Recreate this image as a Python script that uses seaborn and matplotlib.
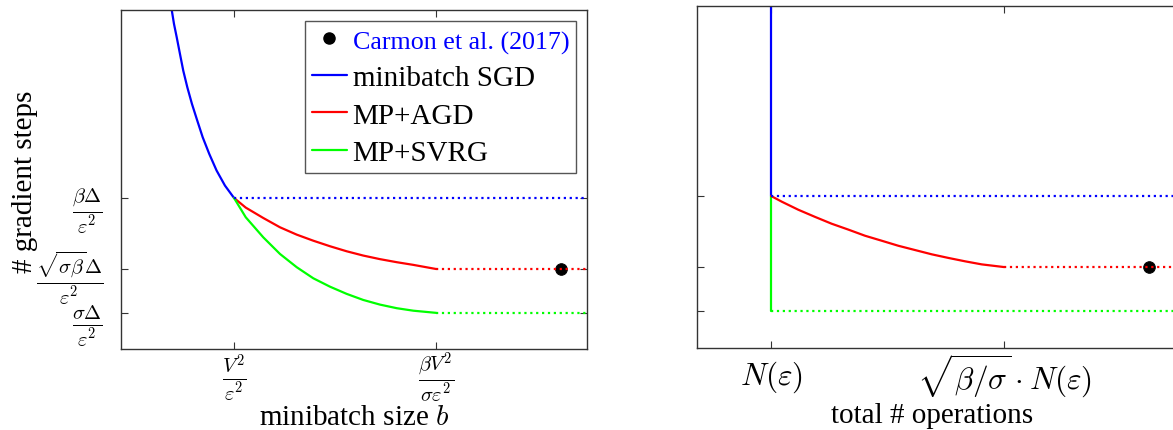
import matplotlib
matplotlib.use("Agg")
import matplotlib.pyplot as plt
import matplotlib.transforms as mtrans
from matplotlib.lines import Line2D
import seaborn as sns

# ---------------- data ----------------
# left panel: x in units of V^2/eps^2, y in units of beta*Delta/eps^2
x_ticks_left = [1.0, 2.788]
x_ticklabels_left = [r"$\frac{V^2}{\varepsilon^2}$", r"$\frac{\beta V^2}{\sigma\varepsilon^2}$"]
y_ticks = [0.358, 0.603, 1.0]
y_ticklabels = [r"$\frac{\sigma\Delta}{\varepsilon^2}$",
                r"$\frac{\sqrt{\sigma\beta}\Delta}{\varepsilon^2}$",
                r"$\frac{\beta\Delta}{\varepsilon^2}$"]

sgd_x = [0.440, 0.449, 0.469, 0.493, 0.522, 0.551, 0.587, 0.628, 0.675, 0.723, 0.781, 0.846, 0.920, 1.0]
sgd_y = [2.100, 2.050, 1.972, 1.898, 1.804, 1.711, 1.618, 1.525, 1.432, 1.339, 1.246, 1.153, 1.069, 1.0]

agd_x = [1.0, 1.104, 1.259, 1.407, 1.555, 1.702, 1.850, 1.997, 2.144, 2.292, 2.440, 2.587, 2.788]
agd_y = [1.0, 0.946, 0.888, 0.836, 0.795, 0.761, 0.730, 0.702, 0.678, 0.658, 0.641, 0.626, 0.603]

svrg_x = [1.0, 1.104, 1.259, 1.407, 1.555, 1.702, 1.850, 1.997, 2.144, 2.292, 2.440, 2.587, 2.788]
svrg_y = [1.0, 0.892, 0.780, 0.687, 0.613, 0.551, 0.504, 0.464, 0.430, 0.404, 0.384, 0.370, 0.358]

left_xmax = 4.3
carmon_left = (3.894, 0.603)

# right panel: x in units of N(eps)
x_ticks_right = [1.0, 2.0]
x_ticklabels_right = [r"$N(\varepsilon)$", r"$\sqrt{\beta/\sigma}\cdot N(\varepsilon)$"]
agd_ops_x = [1.0, 1.046, 1.117, 1.189, 1.260, 1.332, 1.403, 1.475, 1.546, 1.618, 1.690, 1.761, 1.833, 1.904, 2.0]
agd_ops_y = [1.0, 0.968, 0.923, 0.883, 0.845, 0.812, 0.778, 0.750, 0.722, 0.698, 0.674, 0.654, 0.635, 0.618, 0.603]
right_xmax = 2.9
carmon_right = (2.622, 0.603)

# ---------------- style ----------------
sns.set_theme(style="ticks")
plt.rcParams["font.family"] = ["Liberation Serif", "DejaVu Serif"]
plt.rcParams["mathtext.fontset"] = "cm"
plt.rcParams["text.color"] = "black"
plt.rcParams["axes.labelcolor"] = "black"
plt.rcParams["xtick.labelcolor"] = "black"
plt.rcParams["ytick.labelcolor"] = "black"

BLUE, RED, GREEN = (0, 0, 1), (1, 0, 0), (0, 1, 0)
LW = 1.6
FS = 21

fig = plt.figure(figsize=(11.73, 4.31), dpi=100)
ax1 = fig.add_axes([121 / 1173, 81 / 431, 466 / 1173, 339 / 431])
ax2 = fig.add_axes([697 / 1173, 82 / 431, 483 / 1173, 342 / 431])


def style_axes(ax):
    for s in ax.spines.values():
        s.set_color("#333333")
        s.set_linewidth(1.0)
    ax.tick_params(direction="in", length=5, width=0.8, color="#333333",
                   labelcolor="black", top=True, right=True)


def draw(ax, x, y, color, ls="-"):
    sns.lineplot(x=x, y=y, ax=ax, color=color, linewidth=LW, linestyle=ls,
                 sort=False, estimator=None, legend=False)


# ---- left panel ----
draw(ax1, sgd_x, sgd_y, BLUE)
draw(ax1, agd_x, agd_y, RED)
draw(ax1, svrg_x, svrg_y, GREEN)
draw(ax1, [1.0, left_xmax], [1.0, 1.0], BLUE, ":")
draw(ax1, [agd_x[-1], left_xmax], [agd_y[-1], agd_y[-1]], RED, ":")
draw(ax1, [svrg_x[-1], left_xmax], [svrg_y[-1], svrg_y[-1]], GREEN, ":")
sns.scatterplot(x=[carmon_left[0]], y=[carmon_left[1]], ax=ax1, color="black",
                s=70, zorder=1.5, legend=False, edgecolor="black")
ax1.set_xlim(0, 4.124)
ax1.set_ylim(0.156, 2.050)
ax1.set_xticks(x_ticks_left)
ax1.set_xticklabels(x_ticklabels_left)
ax1.set_yticks(y_ticks)
ax1.set_yticklabels(y_ticklabels)
style_axes(ax1)
ax1.tick_params(axis="x", labelsize=21, pad=20)
ax1.tick_params(axis="y", labelsize=21, pad=13)
for lab in ax1.get_xticklabels():
    lab.set_verticalalignment("center")
# small vertical nudges of the stacked fraction labels (points)
for lab, dy in zip(ax1.get_yticklabels(), [-2, 1, -2]):
    lab.set_transform(lab.get_transform() +
                      mtrans.ScaledTranslation(0, dy / 72, fig.dpi_scale_trans))

ax1.set_xlabel(r"minibatch size $b$", fontsize=FS, va="center")
ax1.xaxis.set_label_coords(0.5, -0.2)
ax1.set_ylabel("# gradient steps", fontsize=FS, va="center")
ax1.yaxis.set_label_coords(-0.207, 0.496)

handles = [
    Line2D([], [], marker="o", color="black", linestyle="None", markersize=8),
    Line2D([], [], color=BLUE, linewidth=LW),
    Line2D([], [], color=RED, linewidth=LW),
    Line2D([], [], color=GREEN, linewidth=LW),
]
labels = ["Carmon et al. (2017)", "minibatch SGD", "MP+AGD", "MP+SVRG"]
leg = ax1.legend(handles, labels, loc="upper right", bbox_to_anchor=(0.977, 0.968),
                 borderaxespad=0, fontsize=FS, handlelength=1.2, handletextpad=0.2,
                 labelspacing=0.38, borderpad=0.24, fancybox=False, framealpha=1,
                 edgecolor="#555555")
leg.get_frame().set_linewidth(1.0)
for t in leg.get_texts():
    t.set_color("black")
leg.get_texts()[0].set_color(BLUE)
leg.get_texts()[0].set_fontsize(18.7)

# ---- right panel ----
draw(ax2, [1.0, 1.0], [1.0, 3.0], BLUE)
draw(ax2, [1.0, 1.0], [1.0, y_ticks[0]], GREEN)
draw(ax2, agd_ops_x, agd_ops_y, RED)
draw(ax2, [1.0, right_xmax], [1.0, 1.0], BLUE, ":")
draw(ax2, [agd_ops_x[-1], right_xmax], [agd_ops_y[-1], agd_ops_y[-1]], RED, ":")
draw(ax2, [1.0, right_xmax], [y_ticks[0], y_ticks[0]], GREEN, ":")
sns.scatterplot(x=[carmon_right[0]], y=[carmon_right[1]], ax=ax2, color="black",
                s=70, zorder=1.5, legend=False, edgecolor="black")
ax2.set_xlim(0.682, 2.755)
ax2.set_ylim(0.151, 2.061)
ax2.set_xticks(x_ticks_right)
ax2.set_xticklabels(x_ticklabels_right)
ax2.set_yticks(y_ticks)
ax2.set_yticklabels([])
style_axes(ax2)
ax2.tick_params(axis="x", labelsize=22.5, pad=20)
for lab in ax2.get_xticklabels():
    lab.set_verticalalignment("center")
ax2.set_xlabel("total # operations", fontsize=FS, va="center")
ax2.xaxis.set_label_coords(0.4865, -0.196)

fig.savefig("out.png", dpi=100)
